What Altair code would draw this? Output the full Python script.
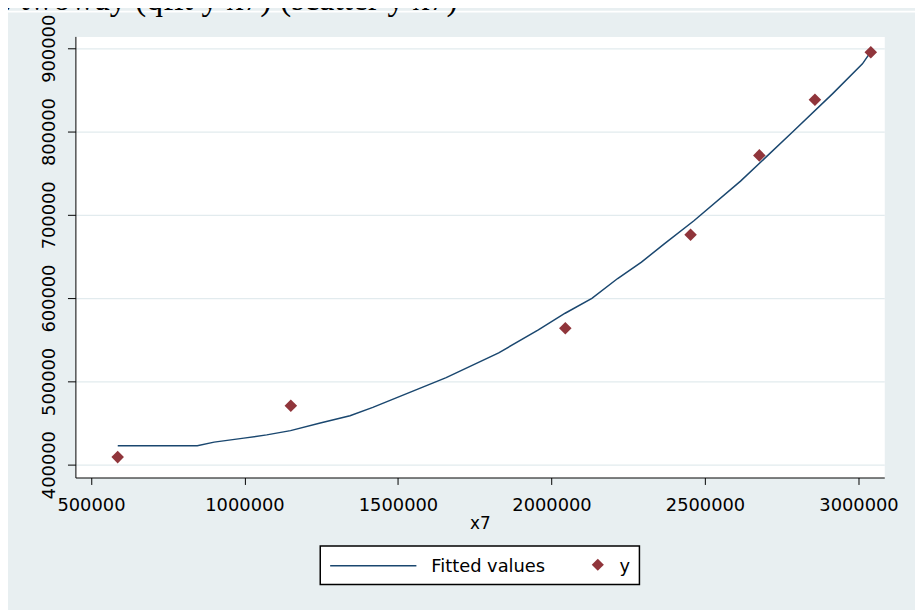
import altair as alt
import pandas as pd

# ---- data ----
x7 = [587000, 1151000, 2045000, 2453000, 2677000, 2858000, 3040000]
y_obs = [409000, 470600, 563900, 676200, 771400, 838100, 895200]

fit_x = [587200, 846300, 901200, 998000, 1072500, 1150000, 1246800, 1343700,
         1418000, 1656900, 1828000, 1957200, 2044400, 2131600, 2215500,
         2293000, 2367300, 2463900, 2615700, 2786800, 2915900, 3012800, 3038600]
fit_y = [422600, 422600, 427000, 431800, 435700, 440800, 450000, 458700,
         468700, 504400, 534200, 561900, 581800, 599600, 623500,
         643200, 665100, 692900, 740500, 800000, 845600, 881300, 895200]

x_ticks = [500000, 1000000, 1500000, 2000000, 2500000, 3000000]
y_ticks = [400000, 500000, 600000, 700000, 800000, 900000]
legend_labels = ["Fitted values", "y"]
x_title = "x7"
command_text = ". twoway (qfit y x7) (scatter y x7)"

# ---- styles ----
NAVY = "#1A476F"
MAROON = "#90353B"
PANEL = "#E8EFF1"
GRID = "#E2EBEE"
FONT = "DejaVu Sans"

fit_df = pd.DataFrame({"x7": fit_x, "fit": fit_y})
obs_df = pd.DataFrame({"x7": x7, "y": y_obs})
one = pd.DataFrame({"k": [0]})

xscale = alt.Scale(domain=[449300, 3083900], nice=False, zero=False)
yscale = alt.Scale(domain=[384500, 914300], nice=False, zero=False)

x_axis = alt.Axis(title=x_title, values=x_ticks, format="d", grid=False,
                  domainColor="black", domainWidth=1, tickColor="black",
                  tickSize=7, labelFontSize=18, labelPadding=12,
                  labelColor="black", labelFlush=False, labelOverlap=False,
                  titleFontSize=17, titleFontWeight="normal",
                  titleColor="black", titlePadding=1)
y_axis = alt.Axis(title=None, values=y_ticks, format="d", grid=True,
                  gridColor=GRID, gridWidth=1.2,
                  domainColor="black", domainWidth=1, tickColor="black",
                  tickSize=8, labelFontSize=18, labelPadding=13,
                  labelAngle=270, labelAlign="center",
                  labelBaseline="alphabetic", labelColor="black",
                  labelFlush=False, labelOverlap=False)

line = alt.Chart(fit_df).mark_line(color=NAVY, strokeWidth=1.5).encode(
    x=alt.X("x7:Q", scale=xscale, axis=x_axis),
    y=alt.Y("fit:Q", scale=yscale, axis=y_axis),
)

points = alt.Chart(obs_df).mark_point(
    shape="diamond", filled=True, color=MAROON, opacity=1, size=160
).encode(
    x=alt.X("x7:Q", scale=xscale),
    y=alt.Y("y:Q", scale=yscale),
)

# ---- legend box (Stata style) ----
leg_box = alt.Chart(one).mark_rect(fill="white", stroke="black",
                                   strokeWidth=1.5).encode(
    x=alt.value(247), x2=alt.value(569), y=alt.value(514), y2=alt.value(553))
leg_line = alt.Chart(one).mark_rule(color=NAVY, strokeWidth=1.6).encode(
    x=alt.value(257), x2=alt.value(344), y=alt.value(534))
leg_pt = alt.Chart(one).mark_point(shape="diamond", filled=True, color=MAROON,
                                   opacity=1, size=150).encode(
    x=alt.value(527), y=alt.value(533))
leg_t1 = alt.Chart(one).mark_text(text=legend_labels[0], align="left",
                                  baseline="alphabetic", font=FONT,
                                  fontSize=18, color="black").encode(
    x=alt.value(359), y=alt.value(540))
leg_t2 = alt.Chart(one).mark_text(text=legend_labels[1], align="left",
                                  baseline="alphabetic", font=FONT,
                                  fontSize=18, color="black").encode(
    x=alt.value(549), y=alt.value(540))

# ---- clipped command line at the very top ----
top_strip = alt.Chart(one).mark_rect(fill="white").encode(
    x=alt.value(-68), x2=alt.value(847), y=alt.value(-26), y2=alt.value(-24))
top_text = alt.Chart(one).mark_text(text=command_text, align="left",
                                    baseline="alphabetic",
                                    font="Liberation Serif", fontSize=34,
                                    color="black").encode(
    x=alt.value(-73), y=alt.value(-27))

chart = alt.layer(
    line, points, leg_box, leg_line, leg_pt, leg_t1, leg_t2, top_strip, top_text
).properties(
    width=816, height=445,
    autosize=alt.AutoSizeParams(type="none"),
    padding={"left": 68, "top": 26, "right": 31, "bottom": 131},
).configure(
    background=PANEL
).configure_view(
    fill="white", stroke="transparent"
).configure_axis(
    labelFont=FONT, titleFont=FONT
)

chart.save("out.html", embed_options={"renderer": "svg", "actions": False})
